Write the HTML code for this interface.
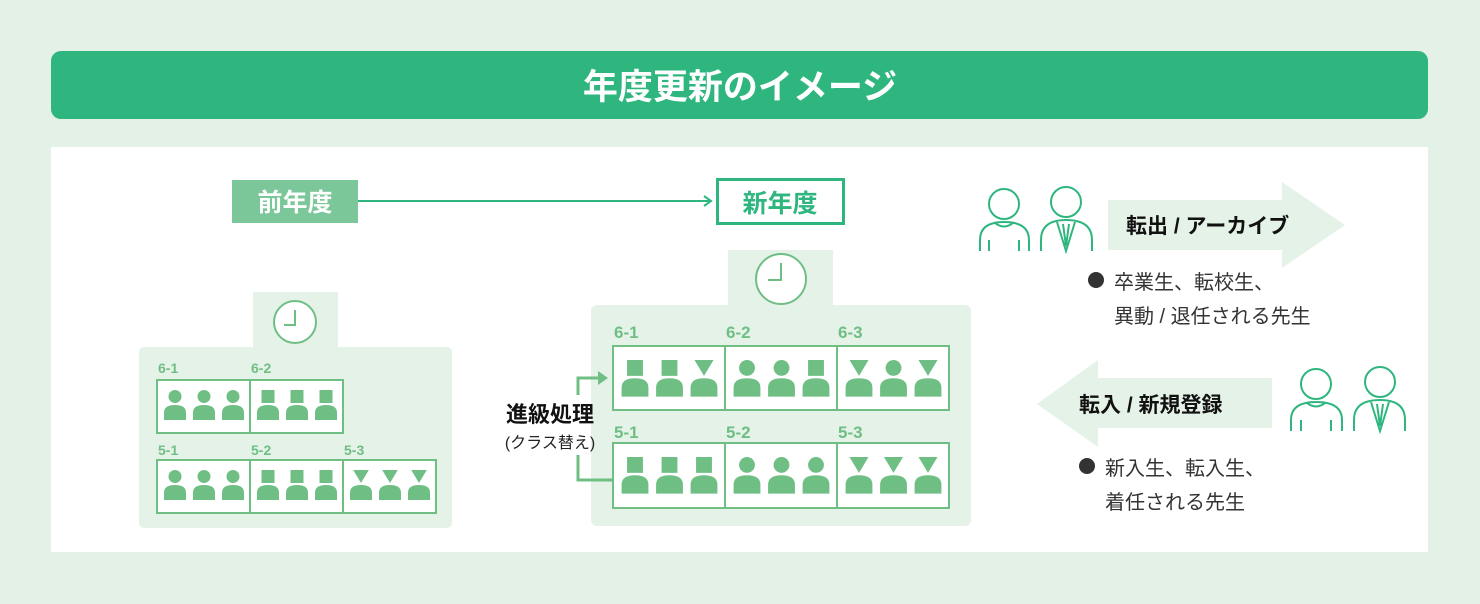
<!DOCTYPE html>
<html><head><meta charset="utf-8"><style>
html,body{margin:0;padding:0;background:#e4f1e6;}
svg{display:block;font-family:"Liberation Sans","Noto Sans CJK JP",sans-serif;}
</style></head><body>
<svg id="s" width="1480" height="604" viewBox="0 0 1480 604" xmlns="http://www.w3.org/2000/svg">
<rect width="1480" height="604" fill="#e4f1e6"/>
<rect x="51" y="51" width="1377" height="68" rx="10" fill="#2fb67f"/>
<text x="740" y="99" text-anchor="middle" font-size="35" font-weight="bold" fill="#fff">年度更新のイメージ</text>
<rect x="51" y="147" width="1377" height="405" fill="#fff"/>

<rect x="232" y="180" width="126" height="43" fill="#7cc79a"/>
<text x="295" y="211" text-anchor="middle" font-size="25" font-weight="bold" fill="#fff">前年度</text>
<line x1="358" y1="201" x2="711" y2="201" stroke="#2fb67f" stroke-width="2"/>
<polyline points="704,196 711,201 704,206" fill="none" stroke="#2fb67f" stroke-width="2"/>
<rect x="717.5" y="179.5" width="126" height="44" fill="#fff" stroke="#2fb67f" stroke-width="3"/>
<text x="780" y="212" text-anchor="middle" font-size="25" font-weight="bold" fill="#2fb67f">新年度</text>

<!-- left panel -->
<rect x="253" y="292" width="85" height="60" fill="#e5f2e8"/>
<rect x="139" y="347" width="313" height="181" rx="5" fill="#e5f2e8"/>
<rect x="253" y="345" width="85" height="10" fill="#e5f2e8"/>
<circle cx="295" cy="322" r="21" fill="#fff" stroke="#6fbf85" stroke-width="2"/>
<polyline points="295,310 295,325 284,325" fill="none" stroke="#6fbf85" stroke-width="2"/>

<!-- right panel -->
<rect x="728" y="250" width="105" height="60" fill="#e5f2e8"/>
<rect x="591" y="305" width="380" height="221" rx="6" fill="#e5f2e8"/>
<circle cx="781" cy="279" r="25" fill="#fff" stroke="#6fbf85" stroke-width="2"/>
<polyline points="781,263 781,280 768,280" fill="none" stroke="#6fbf85" stroke-width="2"/>

<g id="cells"></g>

<path d="M578 395 V378 H600" fill="none" stroke="#6fbf85" stroke-width="3"/>
<polygon points="598,371 608,378 598,385" fill="#6fbf85"/>
<path d="M578 455 V480 H613" fill="none" stroke="#6fbf85" stroke-width="3"/>
<text x="550" y="422" text-anchor="middle" font-size="22" font-weight="bold" fill="#111">進級処理</text>
<text x="550" y="448" text-anchor="middle" font-size="16" fill="#222">(クラス替え)</text>

<!-- right side -->
<g fill="none" stroke="#2fb67f" stroke-width="2">
 <circle cx="1004" cy="204" r="15"/>
 <path d="M980 251 V240 Q980 222 1004 222 Q1029 222 1029 240 V251"/>
 <path d="M995 223 Q1004 230 1013 223"/>
 <path d="M989 240 V251 M1019 240 V251"/>
 <circle cx="1066" cy="202" r="15"/>
 <path d="M1041 251 V240 Q1041 220 1066 220 Q1092 220 1092 240 V251"/>
 <path d="M1057 222 L1066 251 L1075 222 M1063 224 L1066 246 L1069 224"/>
 <circle cx="1316" cy="384" r="15"/>
 <path d="M1291 431 V420 Q1291 402 1316 402 Q1342 402 1342 420 V431"/>
 <path d="M1307 403 Q1316 410 1325 403"/>
 <path d="M1301 420 V431 M1331 420 V431"/>
 <circle cx="1380" cy="382" r="15"/>
 <path d="M1354 431 V420 Q1354 400 1380 400 Q1405 400 1405 420 V431"/>
 <path d="M1371 402 L1380 431 L1389 402 M1377 404 L1380 426 L1383 404"/>
</g>
<polygon points="1108,200 1282,200 1282,182 1345,225 1282,268 1282,250 1108,250" fill="#e5f2e8"/>
<text x="1126" y="233" font-size="21" font-weight="bold" fill="#111">転出 / アーカイブ</text>
<circle cx="1096" cy="280" r="8" fill="#333"/>
<text x="1114" y="289" font-size="20" fill="#333">卒業生、転校生、</text>
<text x="1114" y="323" font-size="20" fill="#333" xml:space="preserve">異動 / 退任される先生</text>
<polygon points="1037,404 1098,360 1098,378 1272,378 1272,428 1098,428 1098,447" fill="#e5f2e8"/>
<text x="1079" y="412" font-size="21" font-weight="bold" fill="#111">転入 / 新規登録</text>
<circle cx="1087" cy="466" r="8" fill="#333"/>
<text x="1105" y="475" font-size="20" fill="#333">新入生、転入生、</text>
<text x="1105" y="509" font-size="20" fill="#333">着任される先生</text>
</svg>
<script>
var G=document.getElementById('cells'),C='#6fbf85',h='';
function person(cx,top,sc,type){
  var w=11*sc,hs=6.5*sc,by=top+15*sc,bh=15*sc;
  var s='';
  if(type=='c') s+='<circle cx="'+cx+'" cy="'+(top+hs)+'" r="'+hs+'" fill="'+C+'"/>';
  else if(type=='s') s+='<rect x="'+(cx-hs)+'" y="'+top+'" width="'+2*hs+'" height="'+2*hs+'" fill="'+C+'"/>';
  else s+='<polygon points="'+(cx-hs*1.2)+','+top+' '+(cx+hs*1.2)+','+top+' '+cx+','+(top+hs*2)+'" fill="'+C+'"/>';
  s+='<path d="M'+(cx-w)+' '+(by+bh)+' V'+(by+w*0.7)+' Q'+(cx-w)+' '+by+' '+cx+' '+by+' Q'+(cx+w)+' '+by+' '+(cx+w)+' '+(by+w*0.7)+' V'+(by+bh)+' Z" fill="'+C+'"/>';
  return s;
}
function row(x0,y,cw,ch,types,labels,sc,lblY,fs,off,sp,top){
  for(var i=0;i<types.length;i++){
    var x=x0+i*cw;
    h+='<rect x="'+x+'" y="'+y+'" width="'+cw+'" height="'+ch+'" fill="#fff" stroke="'+C+'" stroke-width="2"/>';
    h+='<text x="'+(x+1)+'" y="'+lblY+'" font-size="'+fs+'" font-weight="bold" fill="'+C+'">'+labels[i]+'</text>';
    for(var j=0;j<3;j++) h+=person(x+off+j*sp,top,sc,types[i][j]);
  }
}
row(157,380,93,53,['ccc','sss'],['6-1','6-2'],1,373,14,18,29,390);
row(157,460,93,53,['ccc','sss','ttt'],['5-1','5-2','5-3'],1,455,14,18,29,470);
row(613,346,112,64,['sst','ccs','tct'],['6-1','6-2','6-3'],1.22,338,17,22,34.5,360);
row(613,443,112,65,['sss','ccc','ttt'],['5-1','5-2','5-3'],1.22,438,17,22,34.5,457);
G.innerHTML=h;
</script>
</body></html>
